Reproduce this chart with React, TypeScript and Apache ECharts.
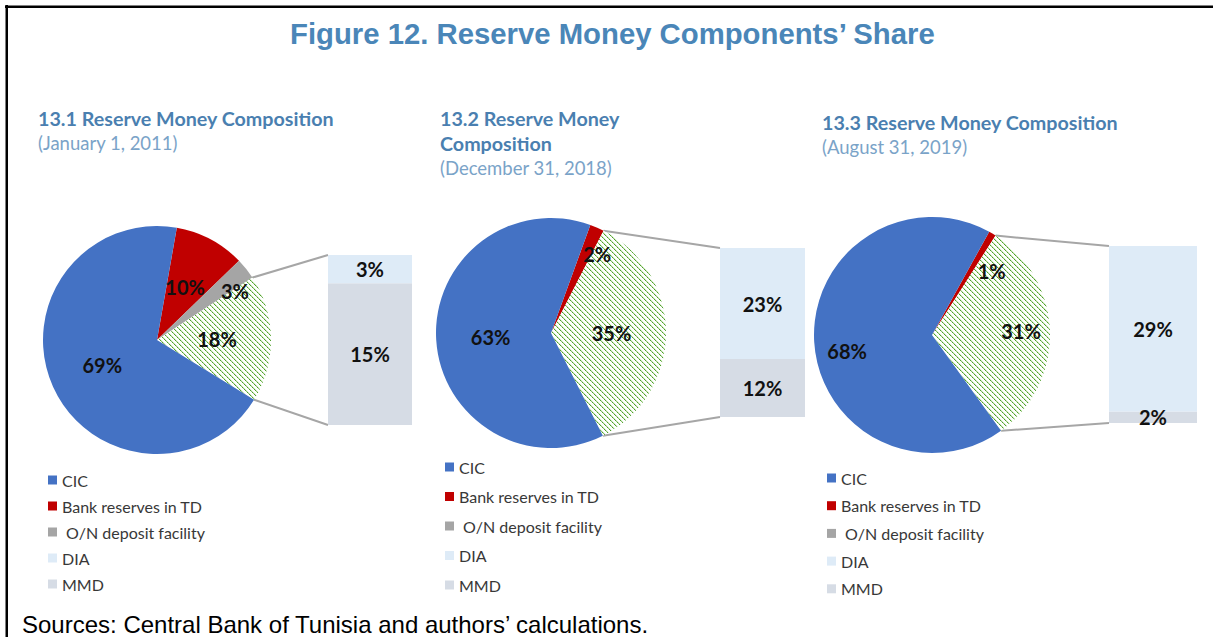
import React, { useEffect, useRef } from "react";
import * as echarts from "echarts";

// ---- data ----
const components = ["CIC", "Bank reserves in TD", " O/N deposit facility", "DIA", "MMD"];
const share2011 = [69, 10, 3, 3, 15];
const share2018 = [63, 2, 0, 23, 12];
const share2019 = [68, 1, 0, 29, 2];
const panelTitles = [
  "13.1 Reserve Money Composition",
  "13.2 Reserve Money\nComposition",
  "13.3 Reserve Money Composition",
];
const panelDates = ["(January 1, 2011)", "(December 31, 2018)", "(August 31, 2019)"];
const mainTitle = "Figure 12. Reserve Money Components\u2019 Share";
const sourceNote = "Sources: Central Bank of Tunisia and authors\u2019 calculations.";
const OTHER = "DIA + MMD";

// ---- styles / layout ----
const COLORS: Record<string, string> = {
  CIC: "#4472c4",
  "Bank reserves in TD": "#c00000",
  " O/N deposit facility": "#a5a5a5",
  DIA: "#deebf7",
  MMD: "#d6dce5",
};
const LABEL_FONT = "Lato";
const panels = [
  {
    shares: share2011, cx: 157, cy: 340, r: 114, start: 80,
    bar: { left: 328, top: 255, width: 84, height: 170 },
    titleLeft: 38, titleTop: 105.5,
    legendLeft: 48, legendTop: 472, legendGap: 10,
    nudge: { " O/N deposit facility": [31, -12] } as Record<string, number[]>,
  },
  {
    shares: share2018, cx: 551, cy: 333, r: 115, start: 70,
    bar: { left: 720, top: 248, width: 85, height: 169 },
    titleLeft: 440, titleTop: 105.5,
    legendLeft: 445, legendTop: 459, legendGap: 13.5,
    nudge: { "Bank reserves in TD": [22, -24] } as Record<string, number[]>,
  },
  {
    shares: share2019, cx: 932, cy: 335, r: 118, start: 61,
    bar: { left: 1109, top: 246, width: 88, height: 177 },
    titleLeft: 822, titleTop: 109.5,
    legendLeft: 827, legendTop: 470, legendGap: 11.7,
    nudge: { "Bank reserves in TD": [28, -11], [OTHER]: [27, -2], CIC: [-23, 12] } as Record<string, number[]>,
  },
];

function makeHatch() {
  const c = document.createElement("canvas");
  c.width = 5;
  c.height = 5;
  const ctx = c.getContext("2d")!;
  ctx.fillStyle = "#ffffff";
  ctx.fillRect(0, 0, 5, 5);
  for (let i = 0; i < 5; i++) {
    ctx.fillStyle = i % 2 === 0 ? "#4f9f2c" : "#86c266";
    ctx.fillRect(i, i, 1, 1);
    ctx.fillStyle = "#d2ebc5";
    ctx.fillRect((i + 1) % 5, i, 1, 1);
  }
  return c;
}

export default function App() {
  const ref = useRef<HTMLDivElement>(null);
  useEffect(() => {
    document.body.style.margin = "0";
    const chart = echarts.init(ref.current!, null, { renderer: "svg" });
    const hatch = { image: makeHatch(), repeat: "repeat", imageWidth: 5, imageHeight: 5 } as any;

    const series: any[] = [];
    const grids: any[] = [];
    const xAxes: any[] = [];
    const yAxes: any[] = [];
    const graphics: any[] = [];

    const labelBase = {
      fontFamily: LABEL_FONT,
      fontWeight: "bold",
      fontSize: 20,
      color: "#111111",
    };

    panels.forEach((p, i) => {
      const [cic, br, on, dia, mmd] = p.shares;
      const other = dia + mmd;
      const pieItems = [
        { name: components[1], value: br },
        { name: components[2], value: on },
        { name: OTHER, value: other },
        { name: components[0], value: cic },
      ].filter((d) => d.value > 0);

      series.push({
        type: "pie",
        center: [p.cx, p.cy],
        radius: p.r,
        startAngle: p.start,
        clockwise: true,
        avoidLabelOverlap: false,
        label: { show: true, position: "inside", formatter: "{c}%", ...labelBase },
        labelLine: { show: false },
        emphasis: { disabled: true },
        data: pieItems.map((d) => ({
          name: d.name,
          value: d.value,
          itemStyle: { color: d.name === OTHER ? hatch : COLORS[d.name], borderWidth: 0 },
          label: p.nudge[d.name] ? { offset: p.nudge[d.name] } : {},
        })),
      });

      grids.push({ left: p.bar.left, top: p.bar.top, width: p.bar.width, height: p.bar.height });
      xAxes.push({ type: "category", gridIndex: i, data: ["x"], show: false });
      yAxes.push({ type: "value", gridIndex: i, min: 0, max: other, show: false });
      [
        ["MMD", mmd],
        ["DIA", dia],
      ].forEach(([name, v]) => {
        series.push({
          type: "bar",
          name,
          xAxisIndex: i,
          yAxisIndex: i,
          stack: "s" + i,
          barWidth: "100%",
          data: [v],
          itemStyle: { color: COLORS[name as string] },
          emphasis: { disabled: true },
          label: { show: true, position: "inside", formatter: "{c}%", ...labelBase },
        });
      });

      // connector lines from the "other" slice edges to the stacked bar
      const total = cic + br + on + other;
      const before = br + on;
      const ang = (f: number) => ((p.start - (f / total) * 360) * Math.PI) / 180;
      const pt = (f: number) => [p.cx + p.r * Math.cos(ang(f)), p.cy - p.r * Math.sin(ang(f))];
      const a = pt(before);
      const b = pt(before + other);
      const lineStyle = { stroke: "#a6a6a6", lineWidth: 2 };
      graphics.push({ type: "line", shape: { x1: a[0], y1: a[1], x2: p.bar.left, y2: p.bar.top }, style: lineStyle, silent: true });
      graphics.push({ type: "line", shape: { x1: b[0], y1: b[1], x2: p.bar.left, y2: p.bar.top + p.bar.height }, style: lineStyle, silent: true });
    });

    // frame
    graphics.push({ type: "rect", shape: { x: 5, y: 5.5, width: 1208, height: 2.5 }, style: { fill: "#000" }, silent: true });
    graphics.push({ type: "rect", shape: { x: 5.5, y: 5, width: 2.5, height: 632 }, style: { fill: "#000" }, silent: true });

    const titles: any[] = [
      {
        text: mainTitle,
        left: 290,
        top: 18.5,
        padding: 0,
        textStyle: { fontFamily: "Liberation Sans", fontWeight: "bold", fontSize: 29.3, color: "#4a86b8" },
      },
      ...panels.map((p, i) => ({
        text: panelTitles[i],
        subtext: panelDates[i],
        left: p.titleLeft,
        top: p.titleTop,
        padding: 0,
        itemGap: 0,
        textStyle: { fontFamily: LABEL_FONT, fontWeight: "bold", fontSize: 19.7, color: "#4a7fb0", lineHeight: 25 },
        subtextStyle: { fontFamily: LABEL_FONT, fontSize: 18.5, color: "#7aa3c8", lineHeight: 25 },
      })),
      {
        text: sourceNote,
        left: 22,
        top: 612,
        padding: 0,
        textStyle: { fontFamily: "Liberation Sans", fontWeight: "normal", fontSize: 24, color: "#000" },
      },
    ];

    chart.setOption({
      animation: false,
      backgroundColor: "#ffffff",
      title: titles,
      legend: panels.map((p) => ({
        orient: "vertical",
        left: p.legendLeft,
        top: p.legendTop,
        padding: 0,
        itemWidth: 9,
        itemHeight: 9,
        itemGap: p.legendGap,
        icon: "rect",
        selectedMode: false,
        data: components,
        textStyle: { fontFamily: LABEL_FONT, fontSize: 16, color: "#383838" },
      })),
      grid: grids,
      xAxis: xAxes,
      yAxis: yAxes,
      series,
      graphic: graphics,
    });
    return () => chart.dispose();
  }, []);
  return <div ref={ref} style={{ width: 1213, height: 637 }} />;
}
